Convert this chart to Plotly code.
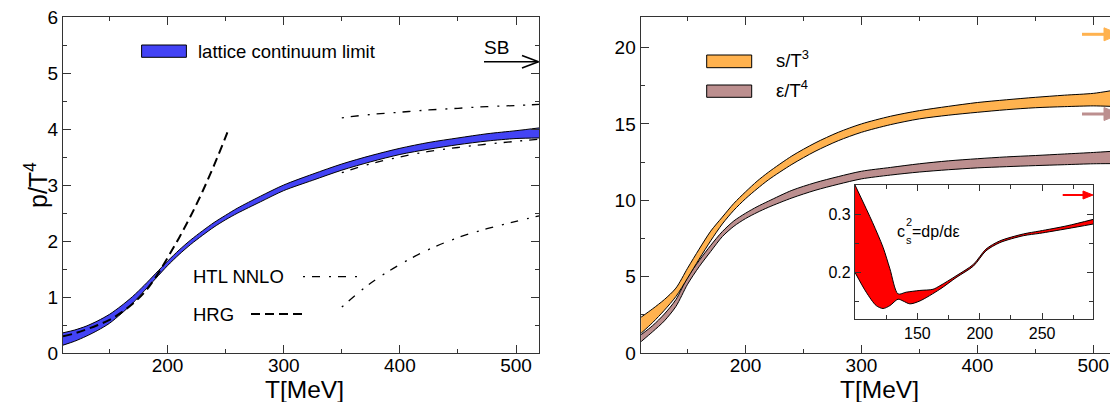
import plotly.graph_objects as go

# ---------------- data ----------------
# left panel: p/T^4 lattice continuum band
T_p = [110,120,130,140,150,160,170,180,190,200,210,220,230,240,250,260,280,300,325,350,375,400,425,450,475,500,520]
p_mid = [0.25,0.31,0.39,0.49,0.61,0.77,0.95,1.16,1.38,1.60,1.80,1.98,2.14,2.29,2.42,2.54,2.75,2.95,3.14,3.32,3.47,3.60,3.70,3.78,3.85,3.90,3.93]
p_err = [0.11,0.10,0.09,0.085,0.08,0.07,0.06,0.05,0.045,0.04,0.04,0.04,0.04,0.04,0.04,0.045,0.05,0.05,0.055,0.055,0.055,0.055,0.06,0.06,0.065,0.07,0.09]

# HRG
T_hrg = [110,120,130,140,150,160,170,180,190,200,210,220,230,240,250,252]
p_hrg = [0.30,0.35,0.42,0.50,0.59,0.72,0.88,1.08,1.36,1.70,2.06,2.45,2.88,3.35,3.86,3.97]

# HTL NNLO (three curves)
T_htl = [350,375,400,425,450,475,500,520]
htl_hi = [4.20,4.26,4.30,4.34,4.37,4.40,4.42,4.44]
htl_mid = [3.22,3.38,3.50,3.60,3.67,3.73,3.78,3.82]
htl_lo = [0.82,1.25,1.58,1.85,2.06,2.22,2.35,2.45]

# right panel: s/T^3 and eps/T^4 bands
T_r = [110,120,130,140,150,160,170,180,190,200,210,220,240,260,280,300,325,350,375,400,425,450,475,500,515]
s_lo = [1.30,2.00,2.80,3.70,4.90,6.15,7.35,8.45,9.35,10.10,10.75,11.35,12.35,13.20,13.90,14.45,14.95,15.33,15.57,15.76,15.93,16.06,16.13,16.18,16.15]
s_hi = [2.35,2.90,3.50,4.25,5.55,6.80,7.98,8.90,9.80,10.55,11.25,11.85,12.90,13.75,14.45,15.00,15.50,15.87,16.15,16.40,16.58,16.74,16.88,17.00,17.17]
e_lo = [0.75,1.40,2.10,3.05,4.50,5.65,6.65,7.62,8.30,8.80,9.20,9.55,10.15,10.65,11.05,11.40,11.65,11.85,12.00,12.12,12.20,12.27,12.33,12.39,12.40]
e_hi = [1.20,1.80,2.55,3.50,4.95,6.05,7.05,7.95,8.65,9.15,9.58,9.95,10.65,11.15,11.55,11.90,12.15,12.39,12.58,12.72,12.84,12.93,13.03,13.13,13.20]

# inset: speed of sound squared
T_cs_up = [100,114,122.5,128,134.5,141,152,162.5,168,181,195,205,216,235,248,270,291]
cs_up = [0.350,0.286,0.243,0.206,0.163,0.166,0.169,0.171,0.177,0.194,0.214,0.240,0.254,0.266,0.271,0.280,0.291]
T_cs_lo = [100,109,117,122.5,128,134.5,138.5,144,152,168,181,195,205,216,235,248,270,291]
cs_lo = [0.200,0.166,0.143,0.138,0.143,0.154,0.151,0.146,0.151,0.171,0.191,0.211,0.237,0.251,0.263,0.267,0.275,0.283]

# ---------------- styling ----------------
BLUE = "#4343f5"
ORANGE = "#ffb24f"
BROWN = "#bc8f8f"
RED = "#ff0000"
FONT = "Liberation Sans, Arial, sans-serif"
AX = "#333333"

W, H = 1110, 402
ML, MR, MT, MB = 63, 0, 17, 49
PW, PH = W - ML - MR, H - MT - MB

def fx(px):
    return (px - ML) / PW

def fy(py):
    return (H - MB - py) / PH

fig = go.Figure()

def band(Tlo, lo, Thi, hi, color, xa, ya):
    fig.add_trace(go.Scatter(x=Tlo, y=lo, mode="lines", line=dict(color="black", width=1, shape="spline", smoothing=0.8),
                             xaxis=xa, yaxis=ya, showlegend=False, hoverinfo="skip"))
    fig.add_trace(go.Scatter(x=Thi, y=hi, mode="lines", fill="tonexty", fillcolor=color,
                             line=dict(color="black", width=1, shape="spline", smoothing=0.8),
                             xaxis=xa, yaxis=ya, showlegend=False, hoverinfo="skip"))

# left panel
band(T_p, [m - e for m, e in zip(p_mid, p_err)], T_p, [m + e for m, e in zip(p_mid, p_err)], BLUE, "x", "y")
fig.add_trace(go.Scatter(x=T_hrg, y=p_hrg, mode="lines",
                         line=dict(color="black", width=2, dash="9px,5px", shape="spline"),
                         xaxis="x", yaxis="y", showlegend=False))
for arr in (htl_hi, htl_mid, htl_lo):
    fig.add_trace(go.Scatter(x=T_htl, y=arr, mode="lines",
                             line=dict(color="black", width=1.3, dash="2px,7px,8px,9px", shape="spline"),
                             xaxis="x", yaxis="y", showlegend=False))

# right panel
band(T_r, e_lo, T_r, e_hi, BROWN, "x2", "y2")
band(T_r, s_lo, T_r, s_hi, ORANGE, "x2", "y2")

# inset
band(T_cs_lo, cs_lo, T_cs_up, cs_up, RED, "x3", "y3")

def axstyle(**kw):
    d = dict(showline=True, linecolor=AX, linewidth=1.3, mirror="ticks", ticks="inside",
             ticklen=8, tickwidth=1.2, tickcolor=AX, showgrid=False, zeroline=False,
             tickfont=dict(family=FONT, size=19, color="black"))
    d.update(kw)
    return d

fig.update_layout(
    width=W, height=H, margin=dict(l=ML, r=MR, t=MT, b=MB),
    paper_bgcolor="white", plot_bgcolor="rgba(0,0,0,0)",
    font=dict(family=FONT, color="black"),
    xaxis=axstyle(domain=[0, fx(539.3)], range=[110, 520], dtick=100, anchor="y", ticklabelstandoff=-5,
                  minor=dict(dtick=50, ticklen=4, ticks="inside", tickcolor=AX)),
    yaxis=axstyle(domain=[0, 1], range=[0, 6], dtick=1, anchor="x",
                  minor=dict(dtick=0.5, ticklen=4, ticks="inside", tickcolor=AX)),
    xaxis2=axstyle(domain=[fx(640.7), 1], range=[109.6, 514.4], dtick=100, anchor="y2", ticklabelstandoff=-5,
                   minor=dict(dtick=50, ticklen=4, ticks="inside", tickcolor=AX)),
    yaxis2=axstyle(domain=[0, 1], range=[0, 22], dtick=5, anchor="x2", mirror=False,
                   minor=dict(dtick=2.5, ticklen=4, ticks="inside", tickcolor=AX)),
    xaxis3=axstyle(domain=[fx(855), fx(1093.3)], range=[100, 291], tickvals=[150, 200, 250],
                   anchor="y3", ticklen=6, tickfont=dict(family=FONT, size=16, color="black"),
                   minor=dict(tickvals=[125, 175, 225, 275], ticklen=4, ticks="inside", tickcolor=AX)),
    yaxis3=axstyle(domain=[fy(319), fy(185)], range=[0.12, 0.35], tickvals=[0.2, 0.3],
                   ticktext=["0.2", "0.3"], anchor="x3", ticklen=6,
                   tickfont=dict(family=FONT, size=16, color="black"),
                   minor=dict(tickvals=[0.15, 0.25], ticklen=4, ticks="inside", tickcolor=AX)),
)

ann = []
def text(s, x, y, size, xanchor="center", angle=0):
    ann.append(dict(text=s, x=fx(x), y=fy(y), xref="paper", yref="paper", showarrow=False,
                    xanchor=xanchor, yanchor="middle", textangle=angle,
                    font=dict(family=FONT, size=size, color="black")))

text("p/T<sup>4</sup>", 36, 185, 25, angle=-90)
text("T[MeV]", 304.5, 389.5, 24.5)
text("T[MeV]", 879, 389.5, 24.5)
text("lattice continuum limit", 196, 51.7, 18.5, xanchor="left")
text("SB", 496.5, 47, 19)
text("HTL NNLO", 191, 276.7, 18.5, xanchor="left")
text("HRG", 191, 314, 18.5, xanchor="left")
text("s/T<sup>3</sup>", 774, 59, 18.5, xanchor="left")
text("ε/T<sup>4</sup>", 774, 89, 18.5, xanchor="left")
# c_s^2 = dp/dε with stacked sub/superscript
text("c", 895, 232, 16, xanchor="left")
text("2", 903.5, 222, 11, xanchor="left")
text("s", 903.5, 240, 11, xanchor="left")
text("=dp/dε", 910, 232, 16, xanchor="left")
fig.update_layout(annotations=ann)

shapes = []
def rect(x0, y0, x1, y1, color):
    shapes.append(dict(type="rect", xref="paper", yref="paper", x0=fx(x0), x1=fx(x1),
                       y0=fy(y1), y1=fy(y0), fillcolor=color, line=dict(color="black", width=1)))

def pline(x0, y0, x1, y1, color="black", width=1.5, dash=None):
    ln = dict(color=color, width=width)
    if dash:
        ln["dash"] = dash
    shapes.append(dict(type="line", xref="paper", yref="paper", x0=fx(x0), x1=fx(x1),
                       y0=fy(y0), y1=fy(y1), line=ln))

def tri(xb, yc, xt, hw, color):
    path = "M {} {} L {} {} L {} {} Z".format(fx(xb), fy(yc - hw), fx(xt), fy(yc), fx(xb), fy(yc + hw))
    shapes.append(dict(type="path", xref="paper", yref="paper", path=path,
                       fillcolor=color, line=dict(color=color, width=1)))

rect(141.6, 45, 186.4, 57.3, BLUE)
rect(706.7, 55, 751.7, 67.7, ORANGE)
rect(706.7, 85, 751.7, 97.3, BROWN)

pline(303, 276.7, 360, 276.7, width=1.3, dash="2px,7px,8px,9px")
pline(251, 314, 306, 314, width=2, dash="9px,5px")

# SB arrow (left panel), open chevron head
pline(484, 61.7, 538.5, 61.7, width=1.6)
pline(522, 55.5, 538.5, 61.7, width=1.6)
pline(522, 67.9, 538.5, 61.7, width=1.6)

# SB arrows right panel (cropped at edge)
pline(1082, 34.3, 1106, 34.3, color=ORANGE, width=3)
tri(1104, 34.3, 1120, 6.5, ORANGE)
pline(1082, 114, 1106, 114, color=BROWN, width=3)
tri(1104, 114, 1120, 6.5, BROWN)

# conformal limit arrow in inset
pline(1062.7, 195, 1085, 195, color=RED, width=2)
tri(1083, 195, 1093, 4, RED)

fig.update_layout(shapes=shapes)

fig.write_html("out.html", config={"displayModeBar": False},
               post_script="document.body.style.margin='0px';document.body.style.overflow='hidden';")
